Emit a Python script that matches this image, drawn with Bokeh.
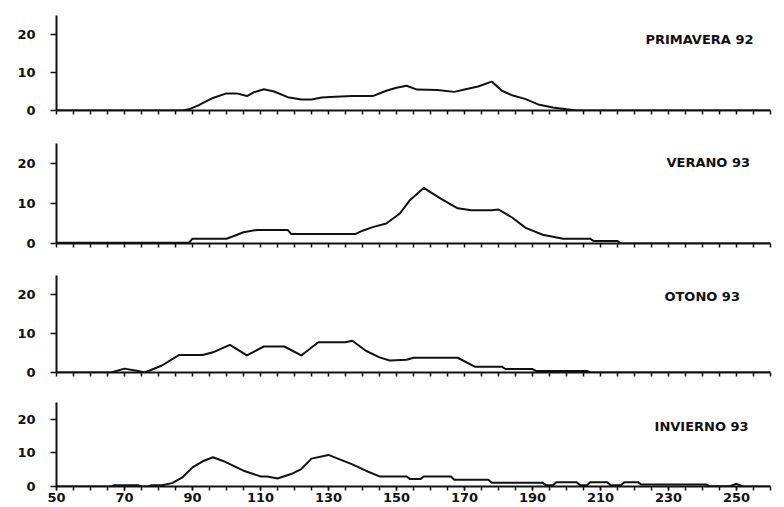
from bokeh.plotting import figure
from bokeh.layouts import column
from bokeh.models import Range1d, FixedTicker, Label
from bokeh.embed import file_html
from bokeh.resources import INLINE

# ---- data ----
x_ticks = [50, 70, 90, 110, 130, 150, 170, 190, 210, 230, 250]
x_minor = list(range(50, 261, 5))
y_ticks = [0, 10, 20]

prim_x = [50, 87, 89, 92, 96, 100, 103, 106, 108, 111, 114, 118, 122, 125, 128, 132, 137, 143, 147, 150, 153, 156, 162, 167, 170, 174, 178, 181, 184, 188, 192, 196, 200, 203, 260]
prim_y = [0, 0, 0.3, 1.5, 3.3, 4.5, 4.5, 3.8, 4.8, 5.6, 5.0, 3.5, 2.9, 2.9, 3.4, 3.6, 3.8, 3.8, 5.2, 6.0, 6.5, 5.5, 5.4, 4.9, 5.5, 6.3, 7.6, 5.2, 4.0, 3.0, 1.5, 0.8, 0.3, 0, 0]

ver_x = [50, 89, 90, 100, 102, 105, 109, 118, 119, 138, 140, 143, 147, 151, 154, 158, 163, 168, 172, 178, 180, 184, 188, 193, 199, 207, 208, 215, 216, 260]
ver_y = [0.2, 0.2, 1.2, 1.2, 1.8, 2.8, 3.4, 3.4, 2.4, 2.4, 3.2, 4.1, 5.0, 7.5, 10.9, 13.9, 11.2, 8.8, 8.3, 8.3, 8.5, 6.5, 3.9, 2.2, 1.2, 1.2, 0.6, 0.6, 0, 0]

oto_x = [50, 66, 70, 74, 76, 81, 86, 93, 96, 101, 106, 111, 117, 122, 127, 135, 137, 141, 145, 148, 153, 155, 168, 173, 181, 182, 190, 191, 206, 207, 260]
oto_y = [0, 0, 1.0, 0.4, 0, 1.8, 4.5, 4.5, 5.2, 7.1, 4.4, 6.7, 6.7, 4.4, 7.8, 7.8, 8.2, 5.6, 3.9, 3.1, 3.3, 3.8, 3.8, 1.5, 1.5, 0.9, 0.9, 0.4, 0.4, 0, 0]

inv_x = [50, 66, 67, 74, 75, 77, 78, 81, 84, 87, 90, 93, 96, 99, 105, 110, 112, 115, 119, 122, 125, 130, 132, 137, 141, 145, 153, 154, 157, 158, 166, 167, 177, 178, 193, 194, 196, 197, 203, 204, 206, 207, 212, 213, 216, 217, 221, 222, 241, 242, 248, 250, 252, 260]
inv_y = [0, 0, 0.4, 0.4, 0, 0, 0.4, 0.4, 1.0, 2.7, 5.7, 7.5, 8.7, 7.6, 4.7, 3.0, 3.0, 2.4, 3.7, 5.2, 8.3, 9.4, 8.6, 6.6, 4.7, 3.0, 3.0, 2.2, 2.2, 3.0, 3.0, 2.0, 2.0, 1.1, 1.1, 0.4, 0.4, 1.3, 1.3, 0.4, 0.4, 1.3, 1.3, 0.4, 0.4, 1.3, 1.3, 0.6, 0.6, 0.1, 0.1, 0.8, 0, 0]

titles = ["PRIMAVERA 92", "VERANO 93", "OTONO 93", "INVIERNO 93"]
series = [(prim_x, prim_y), (ver_x, ver_y), (oto_x, oto_y), (inv_x, inv_y)]

# ---- layout (pixels) ----
heights = [130, 130, 130, 117]
tops = [15, 13, 15, 12]
bottoms = [20, 17, 18, 21]
label_pos = [(223.2, 18.7), (229.4, 20.2), (228.8, 19.6), (225.9, 18.0)]

FONT = "DejaVu Sans"
INK = "#111111"

figs = []
for i in range(4):
    last = i == 3
    p = figure(width=784, height=heights[i], output_backend="svg", toolbar_location=None,
               x_range=Range1d(50, 260), y_range=Range1d(0, 25),
               min_border_left=56, min_border_right=14,
               min_border_top=tops[i], min_border_bottom=bottoms[i])
    p.outline_line_color = None
    p.xgrid.visible = False
    p.ygrid.visible = False
    p.background_fill_color = "white"
    p.border_fill_color = "white"

    xs, ys = series[i]
    p.line(xs, ys, line_width=2, line_color=INK)

    xa = p.xaxis[0]
    xa.ticker = FixedTicker(ticks=x_ticks if last else [], minor_ticks=x_minor)
    xa.axis_line_width = 2
    xa.axis_line_color = INK
    xa.major_tick_out = 4
    xa.major_tick_in = 0
    xa.minor_tick_out = 4
    xa.minor_tick_in = 0
    xa.major_tick_line_width = 1.5
    xa.minor_tick_line_width = 1.5
    xa.major_tick_line_color = INK
    xa.minor_tick_line_color = INK
    xa.major_label_text_font = FONT
    xa.major_label_text_font_style = "bold"
    xa.major_label_text_font_size = "13px"
    xa.major_label_text_color = INK
    xa.major_label_standoff = 2

    ya = p.yaxis[0]
    ya.ticker = FixedTicker(ticks=y_ticks, minor_ticks=[])
    ya.axis_line_width = 2
    ya.axis_line_color = INK
    ya.major_tick_out = 6
    ya.major_tick_in = 0
    ya.major_tick_line_width = 1.5
    ya.major_tick_line_color = INK
    ya.minor_tick_out = 0
    ya.minor_tick_in = 0
    ya.major_label_text_font = FONT
    ya.major_label_text_font_style = "bold"
    ya.major_label_text_font_size = "13px"
    ya.major_label_text_color = INK
    ya.major_label_standoff = 15

    lx, ly = label_pos[i]
    p.add_layout(Label(x=lx, y=ly, text=titles[i], text_font=FONT, text_font_style="bold",
                       text_font_size="13px", text_color=INK, text_baseline="middle",
                       text_align="left"))
    figs.append(p)

layout = column(*figs, spacing=0)
open("out.html", "w").write(file_html(layout, INLINE))
